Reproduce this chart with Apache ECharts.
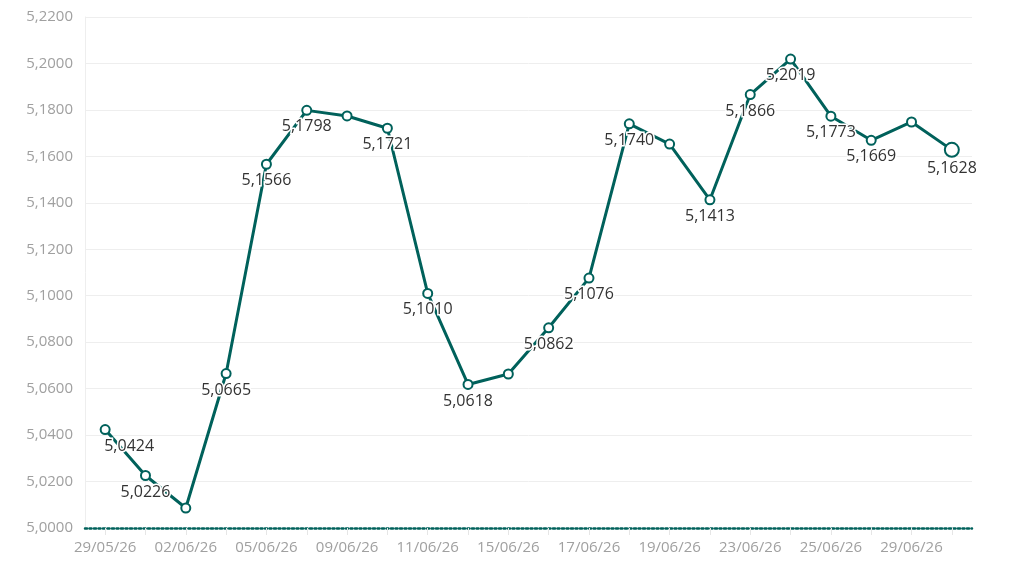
<!DOCTYPE html>
<html><head><meta charset="utf-8">
<script src="https://cdn.jsdelivr.net/npm/echarts@6/dist/echarts.min.js"></script>
<style>html,body{margin:0;padding:0;background:#fff}#c{width:1024px;height:576px}</style>
</head><body><div id="c"></div>
<script>
const categories = ['29/05/26','01/06/26','02/06/26','03/06/26','05/06/26','08/06/26','09/06/26','10/06/26','11/06/26','12/06/26','15/06/26','16/06/26','17/06/26','18/06/26','19/06/26','22/06/26','23/06/26','24/06/26','25/06/26','26/06/26','29/06/26','30/06/26'];
const values = [5.0424,5.0226,5.0086,5.0665,5.1566,5.1798,5.1774,5.1721,5.1010,5.0618,5.0663,5.0862,5.1076,5.1740,5.1653,5.1413,5.1866,5.2019,5.1773,5.1669,5.1748,5.1628];
const hiddenLabels = [2,6,10,14,20];
const yMin = 5.0, yMax = 5.22, yStep = 0.02;
const teal = '#00615b';
const fmt = v => v.toFixed(4).replace('.', ',');
const data = values.map((v,i) => {
  const d = {value: v};
  if (hiddenLabels.includes(i)) d.label = {show:false};
  if (i === 0) d.label = {offset:[24,0]};
  if (i === values.length-1) { d.symbolSize = 14; }
  return d;
});
const chart = echarts.init(document.getElementById('c'));
chart.setOption({
  animation:false,
  grid:{left:85,right:52,top:17,bottom:48,containLabel:false},
  xAxis:{type:'category',data:categories,boundaryGap:true,
    axisLine:{show:true,lineStyle:{color:teal,type:[2,2.5],width:2.5}},
    axisTick:{show:true,alignWithLabel:true,interval:0,length:7,lineStyle:{color:'#e6e6e6'}},
    axisLabel:{interval:1,color:'#a0a0a0',fontSize:15,fontFamily:'Open Sans',margin:12},
    splitLine:{show:false}},
  yAxis:{type:'value',min:yMin,max:yMax,interval:yStep,
    axisLine:{show:true,lineStyle:{color:'#eeeeee',width:1}},
    axisTick:{show:false},
    axisLabel:{color:'#a0a0a0',fontSize:15,fontFamily:'Open Sans',margin:12,formatter:fmt},
    splitLine:{show:true,lineStyle:{color:'#eeeeee'}}},
  series:[{type:'line',data:data,symbol:'emptyCircle',symbolSize:9,
    lineStyle:{color:teal,width:3},
    itemStyle:{color:teal,borderWidth:3,borderColor:teal},
    label:{show:true,position:'bottom',distance:3,formatter:p=>fmt(p.value),color:'#333',fontSize:16,fontFamily:'Open Sans',textBorderColor:'#fff',textBorderWidth:3},
    z:3}]
});
</script></body></html>
